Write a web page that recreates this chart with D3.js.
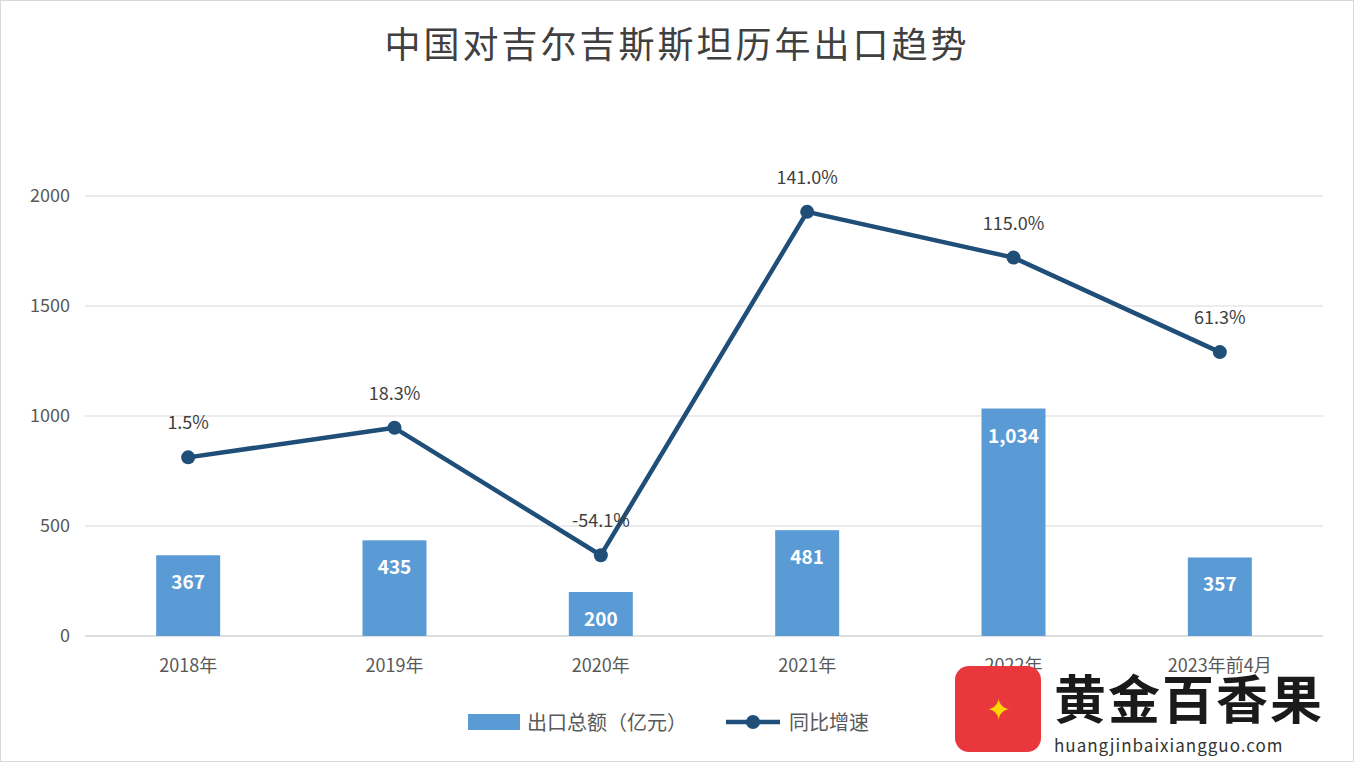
<!DOCTYPE html>
<html><head><meta charset="utf-8">
<script src="https://cdn.jsdelivr.net/npm/d3@7"></script>
<style>body{margin:0;background:#fff}svg{display:block}</style>
</head><body><svg id="c" width="1354" height="762"></svg>
<script>
const categories=["2018年","2019年","2020年","2021年","2022年","2023年前4月"];
const exportValues=[367,435,200,481,1034,357];
const growthRates=[1.5,18.3,-54.1,141.0,115.0,61.3];
const yTicks=[0,500,1000,1500,2000];
const svg=d3.select("#c");
const F="'Noto Sans CJK SC','Noto Sans',sans-serif";
const x=d3.scaleBand().domain(categories).range([85,1323]);
const y=d3.scaleLinear().domain([0,2000]).range([636,196]);
const y2=d3.scaleLinear().domain([-100,150]).range([636,196]);
svg.append("rect").attr("x",0.5).attr("y",0.5).attr("width",1353).attr("height",761).attr("fill","none").attr("stroke","#d9d9d9");
svg.append("text").attr("x",677).attr("y",58).attr("text-anchor","middle").attr("font-family",F).attr("font-size",36).attr("fill","#404040").attr("letter-spacing",3).text("中国对吉尔吉斯斯坦历年出口趋势");
svg.append("g").selectAll("line").data(yTicks).join("line").attr("x1",85).attr("x2",1323).attr("y1",d=>y(d)).attr("y2",d=>y(d)).attr("stroke",d=>d===0?"#bfbfbf":"#d9d9d9").attr("stroke-width",1);
svg.append("g").selectAll("text").data(yTicks).join("text").attr("x",70).attr("y",d=>y(d)+6).attr("text-anchor","end").attr("font-family",F).attr("font-size",18).attr("fill","#595959").text(d=>d);
svg.append("g").selectAll("text").data(categories).join("text").attr("x",d=>x(d)+x.bandwidth()/2).attr("y",672).attr("text-anchor","middle").attr("font-family",F).attr("font-size",18).attr("fill","#595959").text(d=>d);
const bw=64;
svg.append("g").selectAll("rect").data(exportValues).join("rect").attr("x",(d,i)=>x(categories[i])+x.bandwidth()/2-bw/2).attr("y",d=>y(d)).attr("width",bw).attr("height",d=>636-y(d)).attr("fill","#5b9bd5");
svg.append("g").selectAll("text").data(exportValues).join("text").attr("x",(d,i)=>x(categories[i])+x.bandwidth()/2).attr("y",d=>y(d)+34).attr("text-anchor","middle").attr("font-family",F).attr("font-size",19).attr("font-weight","bold").attr("fill","#fff").text(d=>d3.format(",")(d));
const line=d3.line().x((d,i)=>x(categories[i])+x.bandwidth()/2).y(d=>y2(d));
svg.append("path").datum(growthRates).attr("d",line).attr("fill","none").attr("stroke","#1f4e79").attr("stroke-width",4.5).attr("stroke-linejoin","round");
svg.append("g").selectAll("circle").data(growthRates).join("circle").attr("cx",(d,i)=>x(categories[i])+x.bandwidth()/2).attr("cy",d=>y2(d)).attr("r",7).attr("fill","#1f4e79");
svg.append("g").selectAll("text").data(growthRates).join("text").attr("x",(d,i)=>x(categories[i])+x.bandwidth()/2).attr("y",d=>y2(d)-28).attr("text-anchor","middle").attr("font-family",F).attr("font-size",18).attr("fill","#404040").text(d=>d.toFixed(1)+"%");
const lg=svg.append("g").attr("font-family",F).attr("font-size",20).attr("fill","#595959");
lg.append("rect").attr("x",468).attr("y",714).attr("width",52).attr("height",16).attr("fill","#5b9bd5");
lg.append("text").attr("x",527).attr("y",730).text("出口总额（亿元）");
lg.append("line").attr("x1",726).attr("x2",780).attr("y1",722).attr("y2",722).attr("stroke","#1f4e79").attr("stroke-width",4.5);
lg.append("circle").attr("cx",753).attr("cy",722).attr("r",7).attr("fill","#1f4e79");
lg.append("text").attr("x",789).attr("y",730).text("同比增速");
const wm=svg.append("g");
wm.append("rect").attr("x",955).attr("y",666).attr("width",86).attr("height",86).attr("rx",14).attr("fill","#e8383d");
wm.append("text").attr("x",998).attr("y",720).attr("text-anchor","middle").attr("font-size",30).attr("fill","#ffd700").text("✦");
wm.append("text").attr("x",1054).attr("y",719).attr("font-family",F).attr("font-size",52).attr("font-weight","bold").attr("fill","#1a1a1a").attr("letter-spacing",2).text("黄金百香果");
wm.append("text").attr("x",1054).attr("y",752).attr("font-family",F).attr("font-size",17).attr("fill","#333").attr("letter-spacing",1).text("huangjinbaixiangguo.com");
</script></body></html>
